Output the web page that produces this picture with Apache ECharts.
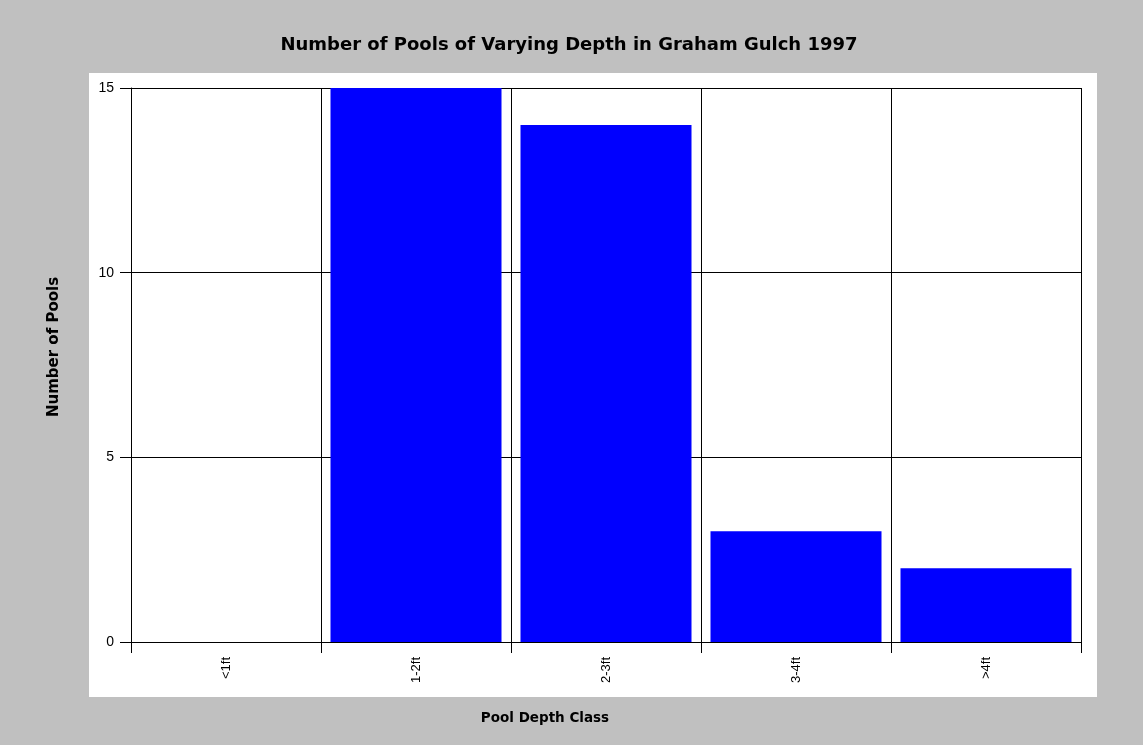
<!DOCTYPE html>
<html>
<head>
<meta charset="utf-8">
<script src="https://cdn.jsdelivr.net/npm/echarts@6/dist/echarts.min.js"></script>
<style>
    html, body { margin: 0; padding: 0; background: #c0c0c0; }
    #chart { width: 1143px; height: 745px; }
</style>
</head>
<body>
<div id="chart"></div>
<script>
// 数据
var depthClasses = ['<1ft', '1-2ft', '2-3ft', '3-4ft', '>4ft'];
var poolCounts = [0, 15, 14, 3, 2];
var yTicks = [0, 5, 10, 15];

(function () {
    var font = 'Liberation Sans, Arial, sans-serif';
    var boldFont = 'DejaVu Sans, Liberation Sans, sans-serif';
    var chart = echarts.init(document.getElementById('chart'));
    var option = {
        backgroundColor: '#c0c0c0',
        animation: false,
        title: {
            text: 'Number of Pools of Varying Depth in Graham Gulch 1997',
            left: 564,
            top: 31,
            textAlign: 'center',
            textStyle: { fontFamily: boldFont, fontSize: 18, fontWeight: 'bold', color: '#000' }
        },
        graphic: [
            {
                type: 'rect', z: -10, silent: true,
                shape: { x: 89, y: 73, width: 1008, height: 624 },
                style: { fill: '#ffffff' }
            },
            {
                type: 'text', silent: true,
                x: 54, y: 347, rotation: Math.PI / 2,
                style: {
                    text: 'Number of Pools', fontFamily: boldFont, fontSize: 15, fontWeight: 'bold',
                    fill: '#000', align: 'center', verticalAlign: 'middle'
                }
            },
            {
                type: 'text', silent: true,
                x: 545, y: 718,
                style: {
                    text: 'Pool Depth Class', fontFamily: boldFont, fontSize: 13.5, fontWeight: 'bold',
                    fill: '#000', align: 'center', verticalAlign: 'middle'
                }
            }
        ],
        grid: { left: 131, right: 62, top: 88, bottom: 103, containLabel: false },
        xAxis: {
            type: 'category',
            data: depthClasses,
            boundaryGap: true,
            axisLine: { show: true, lineStyle: { color: '#000', width: 1 } },
            axisTick: { show: true, length: 11, lineStyle: { color: '#000' } },
            axisLabel: {
                rotate: 90, margin: 15, fontFamily: font, fontSize: 13, color: '#000'
            },
            splitLine: { show: true, lineStyle: { color: '#000', width: 1 } }
        },
        yAxis: {
            type: 'value',
            min: yTicks[0],
            max: yTicks[yTicks.length - 1],
            interval: 5,
            axisLine: { show: true, lineStyle: { color: '#000', width: 1 } },
            axisTick: { show: true, length: 11, lineStyle: { color: '#000' } },
            axisLabel: { margin: 17, fontFamily: font, fontSize: 14, color: '#000' },
            splitLine: { show: true, lineStyle: { color: '#000', width: 1 } }
        },
        series: [
            {
                name: 'Number of Pools',
                type: 'bar',
                data: poolCounts,
                barCategoryGap: '10%',
                itemStyle: { color: '#0000ff' }
            }
        ]
    };
    chart.setOption(option);
})();
</script>
</body>
</html>
